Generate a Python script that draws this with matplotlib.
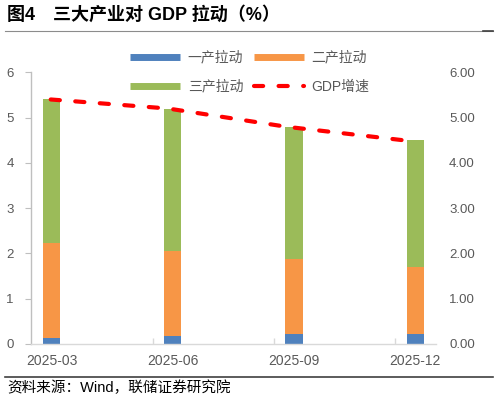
import matplotlib
matplotlib.use("Agg")
import matplotlib.pyplot as plt
from matplotlib.lines import Line2D
import numpy as np

plt.rcParams['font.family'] = ['Liberation Sans', 'Noto Sans CJK SC', 'DejaVu Sans']

categories = ['2025-03', '2025-06', '2025-09', '2025-12']
primary = [0.14, 0.18, 0.21, 0.23]
secondary = [2.08, 1.88, 1.67, 1.47]
tertiary = [3.18, 3.14, 2.92, 2.80]
gdp = [5.4, 5.2, 4.8, 4.5]
series_names = ['一产拉动', '二产拉动', '三产拉动', 'GDP增速']
left_ticks = [0, 1, 2, 3, 4, 5, 6]

c_blue, c_orange, c_green, c_red = '#4F81BD', '#F79646', '#9BBB59', '#FF0000'
txt = '#595959'

W, H = 499, 401
fig = plt.figure(figsize=(W / 100, H / 100), dpi=100)
ax = fig.add_axes([31 / W, (H - 344) / H, 405 / W, (344 - 72.3) / H])

x = np.arange(len(categories))
bw = 0.143
ax.bar(x, primary, bw, color=c_blue, zorder=2)
b2 = np.array(primary)
ax.bar(x, secondary, bw, bottom=b2, color=c_orange, zorder=2)
b3 = b2 + np.array(secondary)
ax.bar(x, tertiary, bw, bottom=b3, color=c_green, zorder=2)

ax.set_xlim(-0.169, 3.17)
ax.set_ylim(0, 6)
ax.set_yticks(left_ticks)
ax.set_xticks(x)
ax.set_xticklabels(categories)
ax.set_xticks([0.837, 1.835, 2.833], minor=True)
ax.tick_params(axis='x', which='major', length=0, pad=7.5, labelsize=10, labelcolor=txt)
ax.tick_params(axis='x', which='minor', direction='in', length=4, color='#d9d9d9', width=1)
ax.tick_params(axis='y', direction='out', length=4, color='#bfbfbf', pad=8.5, labelsize=9.5, labelcolor=txt)
for s in ['top', 'right']:
    ax.spines[s].set_visible(False)
ax.spines['left'].set_color('#bfbfbf')
ax.spines['bottom'].set_color('#d9d9d9')
ax.spines['left'].set_linewidth(1)
ax.spines['bottom'].set_linewidth(1)

axr = ax.twinx()
axr.set_ylim(0, 6)
axr.set_yticks(left_ticks)
axr.set_yticklabels([f'{v:.2f}' for v in left_ticks])
axr.tick_params(axis='y', length=0, pad=9.4, labelsize=9.5, labelcolor=txt)
for s in axr.spines.values():
    s.set_visible(False)

axl = axr.twiny()
axl.set_xlim(-0.168, 3.28)
axl.plot(np.arange(len(gdp)), gdp, color=c_red, lw=3, linestyle=(0, (2.2, 3.7)),
         dash_capstyle='round', zorder=3)
axl.set_xticks([])
for s in axl.spines.values():
    s.set_visible(False)

h_blue = Line2D([], [], color=c_blue, lw=5, solid_capstyle='butt')
h_orange = Line2D([], [], color=c_orange, lw=5, solid_capstyle='butt')
h_green = Line2D([], [], color=c_green, lw=5, solid_capstyle='butt')
h_red = Line2D([], [], color=c_red, lw=3, linestyle=(0, (2.2, 3.7)), dash_capstyle='round')
# column-major fill: col1 = 一产, 三产 ; col2 = 二产, GDP
handles = [h_blue, h_green, h_orange, h_red]
labels = [series_names[0], series_names[2], series_names[1], series_names[3]]
leg = fig.legend(handles, labels, ncol=2, loc='upper left',
                 bbox_to_anchor=(130 / W, 1 - 50.5 / H), frameon=False,
                 fontsize=10, handlelength=3.6, handletextpad=0.55,
                 columnspacing=0.75, labelspacing=1.1, borderpad=0, borderaxespad=0)
for t in leg.get_texts():
    t.set_color(txt)

fig.text(7 / W, 1 - 15 / H, '图4\u3000三大产业对 GDP 拉动（%）', fontsize=13,
         fontweight='bold', va='center', ha='left', color='#000000')
fig.add_artist(Line2D([5 / W, 493 / W], [1 - 31 / H, 1 - 31 / H], color='#8c8c8c', lw=0.8))
fig.add_artist(Line2D([483 / W, 493 / W], [1 - 31 / H, 1 - 31 / H], color='#404040', lw=1.2))
fig.add_artist(Line2D([5 / W, 493 / W], [1 - 377 / H, 1 - 377 / H], color='#404040', lw=1.2))
fig.text(7 / W, 1 - 388 / H, '资料来源：Wind，联储证券研究院', fontsize=10.5,
         va='center', ha='left', color='#000000')

fig.savefig('out.png', dpi=100)
